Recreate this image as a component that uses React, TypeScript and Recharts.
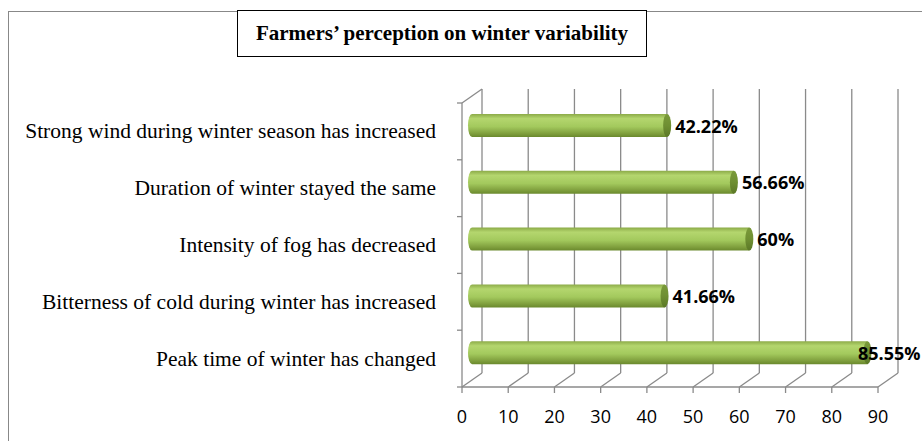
import React from "react"
import {
	BarChart,
	Bar,
	XAxis,
	YAxis,
	CartesianGrid,
	LabelList,
} from "recharts"

const categories = [
	"Strong wind during winter season has increased",
	"Duration of winter stayed the same",
	"Intensity of fog has decreased",
	"Bitterness of cold during winter has increased",
	"Peak time of winter has changed",
]
const percents = [42.22, 56.66, 60, 41.66, 85.55]
const xTicks = [0, 10, 20, 30, 40, 50, 60, 70, 80, 90]

const data = categories.map((name, i) => ({ name, value: percents[i] }))

const W = 922
const H = 441
const TOP = 103
const BOTTOM = 387
const DX = 20
const DY = 14
const BAND = (BOTTOM - TOP) / categories.length
const GRID = "#8a8a8a"

const GridLine = (props: any) => {
	const { x1 } = props
	return (
		<g key={props.key}>
			<line x1={x1} y1={BOTTOM} x2={x1 + DX} y2={BOTTOM - DY} stroke={GRID} strokeWidth={1.3} />
			<line x1={x1 + DX} y1={BOTTOM - DY} x2={x1 + DX} y2={TOP - DY} stroke={GRID} strokeWidth={1.3} />
			<line x1={x1} y1={BOTTOM} x2={x1} y2={BOTTOM + 6} stroke={GRID} strokeWidth={1.3} />
		</g>
	)
}

const CategoryTick = (props: any) => {
	const { y, payload, index } = props
	return (
		<g>
			<line x1={462 - 5} y1={y - BAND / 2} x2={462} y2={y - BAND / 2} stroke={GRID} strokeWidth={1.3} />
			{index === categories.length - 1 && (
				<line x1={462 - 5} y1={y + BAND / 2} x2={462} y2={y + BAND / 2} stroke={GRID} strokeWidth={1.3} />
			)}
			{index === 0 && (
				<line x1={462} y1={TOP} x2={462 + DX} y2={TOP - DY} stroke={GRID} strokeWidth={1.3} />
			)}
			<text
				x={436}
				y={y}
				textAnchor="end"
				dominantBaseline="central"
				fontFamily="'Liberation Serif', 'Times New Roman', serif"
				fontSize={21.5}
				fill="#000"
			>
				{payload.value}
			</text>
		</g>
	)
}

const ValueTick = (props: any) => {
	const { x, payload } = props
	return (
		<text
			x={x}
			y={416}
			textAnchor="middle"
			dominantBaseline="central"
			fontFamily="'Open Sans', sans-serif"
			fontSize={18}
			fill="#000"
		>
			{payload.value}
		</text>
	)
}

const Cylinder = (props: any) => {
	const { x, y, width, height } = props
	const r = 4
	const x0 = x + DX / 2
	const y0 = y - 6
	const x1 = x0 + width
	const h = height
	return (
		<g>
			<path
				d={`M${x0},${y0} L${x1},${y0} L${x1},${y0 + h} L${x0},${y0 + h} A${r},${h / 2} 0 0 1 ${x0},${y0} Z`}
				fill="url(#barBody)"
			/>
			<ellipse cx={x1} cy={y0 + h / 2} rx={r} ry={h / 2} fill="url(#barCap)" />
		</g>
	)
}

const PercentLabel = (props: any) => {
	const { x, y, width, height, value } = props
	const natural = x + DX / 2 + width + 8
	// keep the label inside the chart, like the original does
	const tx = Math.min(natural, W - 64)
	return (
		<text
			x={tx}
			y={y - 6 + height / 2}
			dominantBaseline="central"
			fontFamily="'Open Sans', sans-serif"
			fontWeight="bold"
			fontSize={18}
			fill="#000"
		>
			{value}%
		</text>
	)
}

export default function App() {
	return (
		<div style={{ position: "absolute", left: 0, top: 0, width: W, height: H, background: "#fff", overflow: "hidden" }}>
			<div
				style={{
					position: "absolute",
					left: 8,
					top: 11,
					width: W + 60,
					height: H + 60,
					border: "1.5px solid #888",
				}}
			/>
			<BarChart
				width={W}
				height={H}
				data={data}
				layout="vertical"
				margin={{ top: TOP, right: W - 878, bottom: 24, left: 0 }}
				barSize={23}
				style={{ position: "absolute", left: 0, top: 0 }}
			>
				<defs>
					<linearGradient id="barBody" x1="0" y1="0" x2="0" y2="1">
						<stop offset="0%" stopColor="#8cab48" />
						<stop offset="20%" stopColor="#b4d66e" />
						<stop offset="55%" stopColor="#a3c95d" />
						<stop offset="85%" stopColor="#7f9f3d" />
						<stop offset="100%" stopColor="#6a892d" />
					</linearGradient>
					<linearGradient id="barCap" x1="0" y1="0" x2="0" y2="1">
						<stop offset="0%" stopColor="#7a9a3a" />
						<stop offset="50%" stopColor="#6f8f32" />
						<stop offset="100%" stopColor="#5b7826" />
					</linearGradient>
				</defs>
				<CartesianGrid horizontal={false} vertical={GridLine} />
				<XAxis
					type="number"
					domain={[0, 90]}
					ticks={xTicks}
					interval={0}
					height={30}
					axisLine={{ stroke: GRID, strokeWidth: 1.3 }}
					tickLine={false}
					tick={<ValueTick />}
				/>
				<YAxis
					type="category"
					dataKey="name"
					width={462}
					axisLine={{ stroke: GRID, strokeWidth: 1.3 }}
					tickLine={false}
					tick={<CategoryTick />}
					interval={0}
				/>
				<Bar dataKey="value" shape={<Cylinder />} isAnimationActive={false}>
					<LabelList dataKey="value" content={<PercentLabel />} />
				</Bar>
			</BarChart>
			<div
				style={{
					position: "absolute",
					left: 237,
					top: 10,
					width: 410,
					height: 47,
					boxSizing: "border-box",
					border: "1.5px solid #000",
					background: "#fff",
					display: "flex",
					alignItems: "center",
					justifyContent: "center",
					fontFamily: "'Liberation Serif', 'Times New Roman', serif",
					fontWeight: "bold",
					fontSize: 21,
				}}
			>
				Farmers’ perception on winter variability
			</div>
		</div>
	)
}
